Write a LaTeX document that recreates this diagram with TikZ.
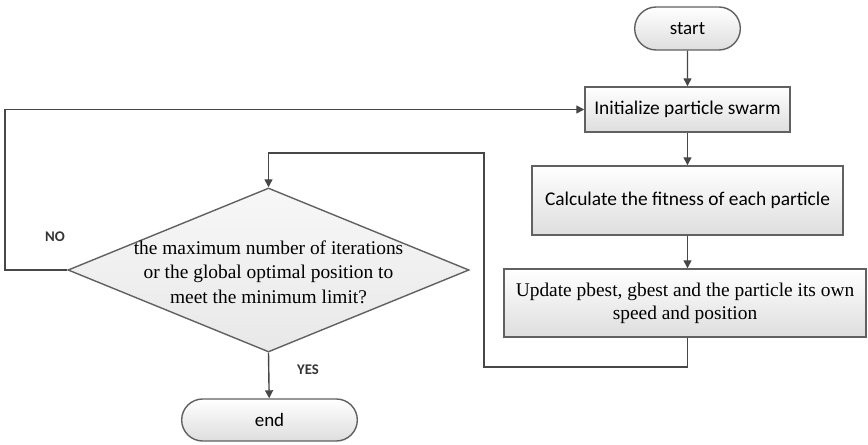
\documentclass[tikz,border=0pt]{standalone}
\usepackage{fontspec}
\setmainfont{Liberation Serif}
\setsansfont{Carlito}
\usetikzlibrary{shapes.geometric,shapes.misc,arrows.meta}

\begin{document}
\begin{tikzpicture}[x=0.025cm,y=-0.025cm]

      \tikzset{box/.style={draw=black!62, line width=1pt, top color=white, bottom color=black!13, align=center},
               term/.style={box, rounded rectangle, font=\sffamily\fontsize{13.5}{16}\selectfont},
               proc/.style={box, rectangle, inner sep=0pt},
               dec/.style={box, diamond, inner sep=0pt, top color=black!3, bottom color=black!9},
               arr/.style={draw=black!72, line width=1pt, -{Triangle[length=2mm,width=2mm]}},
               tag/.style={font=\sffamily\bfseries\fontsize{10.5}{12}\selectfont, text=black!80}}
      \useasboundingbox (0,0) rectangle (868,445);
%% Blocks
      	\node[term, minimum width=2.875cm, minimum height=1.075cm] (start) at (687.5,28.5) {start};
      	\node[proc, minimum width=5.125cm, minimum height=1.125cm, font=\sffamily\fontsize{13.8}{16}\selectfont] (init) at (687.5,109.5) {Initialize particle swarm};
      	\node[proc, minimum width=7.775cm, minimum height=1.725cm, font=\sffamily\fontsize{13.8}{16}\selectfont] (calc) at (687.5,200.5) {Calculate the fitness of each particle};
      	\node[proc, minimum width=9.05cm, minimum height=1.7cm, font=\fontsize{13.8}{16.5}\selectfont] (upd) at (685,303) {Update pbest, gbest and the particle its own\\ speed and position};
      	\node[dec, minimum width=10.025cm, minimum height=4.1cm, label={[font=\fontsize{13.8}{17.5}\selectfont, align=center, yshift=-0.05cm]center:the maximum number of iterations\\ or the global optimal position to\\ meet the minimum limit?}] (check) at (268.5,270) {};
      	\node[term, minimum width=4.625cm, minimum height=1.05cm] (end) at (269.5,420) {end};
      	\coordinate (back) at (484,367);
%Edges
		\draw[arr] (start) -- (init);
		\draw[arr] (init) -- (calc);
		\draw[arr] (calc) -- (calc.south |- upd.north);
		\draw[arr] (calc.south |- upd.south) |- (back) |- (268.5,153) -- (check.north);
		\draw[arr] (check.west) -- (5,270) |- (init.west);
		\draw[arr] (check.south) -- (end);
%Labels
		\node[tag] (no) at (55,237) {NO};
		\node[tag] (yes) at (308,370) {YES};

	\end{tikzpicture}
\end{document}
